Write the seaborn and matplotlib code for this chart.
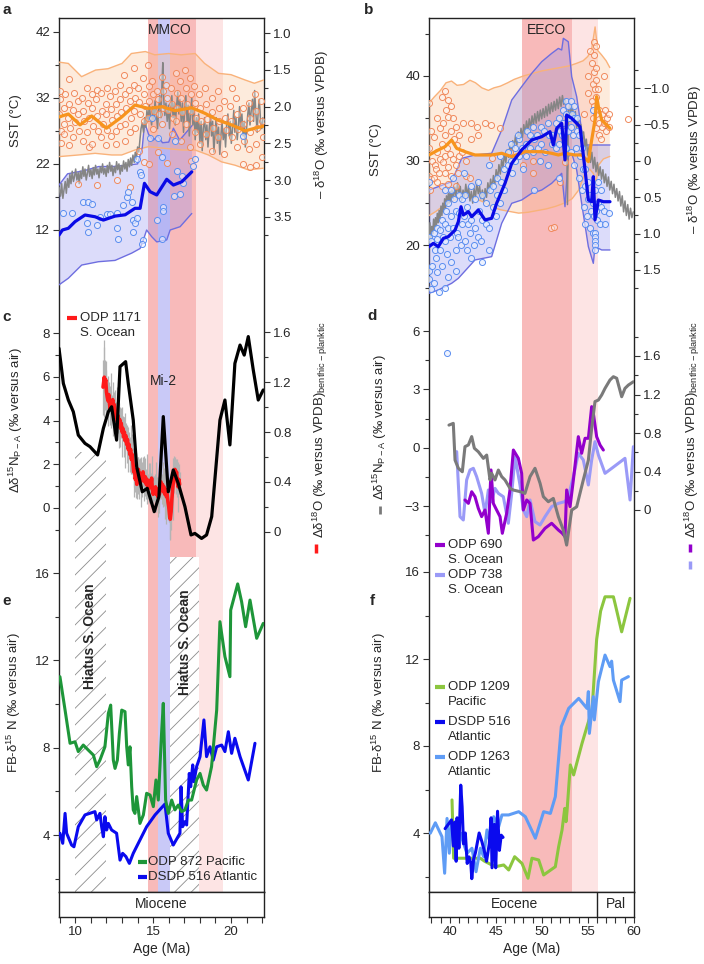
import numpy as np
import matplotlib
matplotlib.use("Agg")
import matplotlib.pyplot as plt
import seaborn as sns
from matplotlib.lines import Line2D

# ------------------------------------------------------------------ data
# Panel a (Miocene SST, left axis; delta18O right axis)
A_OR_MEAN = [(8.95,29.1),(9.55,29.55),(10.3,27.9),(11.05,29.25),(12.0,27.4),(12.98,29.1),(13.83,30.9),(14.69,30.4),(15.55,30.65),(16.4,30.05),(17.47,30.5),(18.33,29.65),(19.18,28.6),(20.04,27.9),(20.9,27.0),(21.54,27.4),(22.07,27.7)]
A_OR_UP = [(8.95,37.4),(9.55,37.2),(10.4,35.2),(11.3,36.2),(12.1,36.4),(13.0,37.2),(13.6,38.7),(14.5,39.0),(15.1,38.5),(16.0,38.7),(16.8,38.5),(17.7,38.7),(18.3,37.2),(19.2,35.7),(20.0,35.5),(20.9,34.7),(21.5,34.2),(22.1,34.7)]
A_OR_LO = [(8.95,23.1),(10.2,23.35),(11.27,23.6),(12.34,23.35),(12.98,23.35),(13.83,24.1),(14.69,24.6),(15.76,24.35),(16.84,24.1),(17.69,24.1),(18.55,23.35),(19.4,22.3),(20.26,21.8),(21.11,21.1),(22.1,21.35)]
A_BL_MEAN = [(8.95,11.24),(9.17,12.0),(9.55,12.26),(9.98,13.26),(10.62,14.27),(11.27,14.0),(11.8,13.5),(12.55,14.1),(13.2,14.3),(13.83,15.28),(14.16,15.28),(14.44,19.06),(14.8,17.8),(15.23,17.3),(15.87,19.67),(16.3,18.8),(16.84,19.3),(17.48,20.8)]
A_BL_UP = [(8.95,18.8),(9.5,20.5),(10.6,21.0),(11.5,21.6),(12.4,21.6),(13.3,21.8),(14.0,22.0),(14.3,24.5),(14.45,28.3),(14.7,26.5),(15.0,25.6),(15.3,26.2),(15.6,25.2),(16.0,25.3),(16.3,27.4),(16.7,25.6),(17.5,27.8)]
A_BL_LO = [(8.95,3.7),(9.55,4.7),(10.41,6.7),(11.48,7.2),(12.55,7.4),(13.62,8.5),(14.16,9.2),(14.37,10.5),(14.58,12.0),(14.9,11.0),(15.23,10.2),(15.87,10.5),(16.09,12.0),(16.73,12.5),(17.48,14.5)]
A_OR_PTS = [(8.98,29.5),(9.02,31.8),(9.05,27.0),(9.1,25.2),(9.0,33.0),(9.25,30.5),(9.3,28.0),(9.35,32.5),(9.28,26.5),(9.55,29.0),(9.6,31.0),(9.58,34.8),(9.65,27.5),(9.62,24.8),(9.85,30.2),(9.9,32.8),(9.95,28.3),(9.88,26.0),(10.15,31.5),(10.2,29.5),(10.25,27.0),(10.18,19.0),(10.45,32.0),(10.5,30.0),(10.55,28.5),(10.48,25.5),(10.75,33.5),(10.8,31.2),(10.85,29.0),(10.78,26.8),(10.9,24.5),(11.05,32.5),(11.1,30.5),(11.15,27.8),(11.08,25.0),(11.35,31.8),(11.4,29.2),(11.45,27.0),(11.38,33.2),(11.42,18.8),(11.65,32.8),(11.7,30.0),(11.75,28.0),(11.68,26.0),(11.95,31.0),(12.0,29.5),(12.05,27.2),(11.98,24.8),(12.02,33.5),(12.25,32.2),(12.3,30.3),(12.35,28.6),(12.28,26.2),(12.55,33.0),(12.6,31.0),(12.65,29.3),(12.58,27.0),(12.62,25.0),(12.7,19.5),(12.85,34.0),(12.9,31.8),(12.95,29.8),(12.88,27.8),(13.15,35.5),(13.2,32.5),(13.25,30.5),(13.18,28.0),(13.22,25.5),(13.45,33.2),(13.5,31.5),(13.55,29.0),(13.48,26.8),(13.52,18.5),(13.75,36.5),(13.8,34.0),(13.85,32.0),(13.78,30.0),(13.82,27.5),(14.05,33.5),(14.1,31.3),(14.15,29.5),(14.08,24.0),(14.35,35.0),(14.4,32.5),(14.45,30.8),(14.38,28.5),(14.42,22.3),(14.65,37.0),(14.7,33.8),(14.75,31.5),(14.68,29.0),(14.72,22.0),(14.95,34.5),(15.0,32.5),(15.05,30.0),(14.98,27.3),(15.25,33.0),(15.3,31.8),(15.35,29.5),(15.28,23.8),(15.55,35.2),(15.6,33.0),(15.65,30.5),(15.58,28.0),(15.85,34.0),(15.9,32.0),(15.95,30.2),(15.88,22.2),(16.15,33.5),(16.2,31.0),(16.25,29.0),(16.18,26.5),(16.45,35.8),(16.5,32.8),(16.55,30.5),(16.48,28.5),(16.75,34.5),(16.8,32.0),(16.85,29.8),(16.78,25.5),(17.05,36.2),(17.1,33.5),(17.15,31.0),(17.08,28.0),(17.35,35.0),(17.4,32.5),(17.45,30.0),(17.38,24.5),(17.42,22.5),(17.65,33.8),(17.7,31.2),(17.75,29.0),(17.68,26.8),(17.95,32.5),(18.0,30.5),(18.05,28.5),(17.98,25.0),(18.35,33.5),(18.4,31.0),(18.45,28.8),(18.38,26.5),(18.75,32.0),(18.8,29.8),(18.85,27.5),(18.78,24.0),(19.15,33.0),(19.2,30.5),(19.25,28.5),(19.18,26.0),(19.55,31.5),(19.6,29.0),(19.65,27.2),(19.58,23.5),(19.95,30.8),(20.0,28.5),(20.05,26.0),(20.08,33.5),(20.35,32.0),(20.4,29.5),(20.45,27.3),(20.38,24.5),(20.75,30.5),(20.8,28.0),(20.85,25.5),(20.78,22.0),(21.15,31.2),(21.2,29.0),(21.25,26.8),(21.18,24.2),(21.22,21.5),(21.55,32.5),(21.6,30.0),(21.65,27.5),(21.58,25.0),(21.62,21.8),(21.95,31.5),(22.0,28.5),(22.05,26.0),(21.98,23.0)]
A_BL_PTS = [(9.2,14.5),(9.76,14.5),(10.51,16.3),(10.83,16.2),(11.09,16.0),(10.73,13.1),(10.83,11.7),(11.37,12.8),(11.6,14.0),(12.01,14.4),(12.23,14.4),(12.65,14.5),(12.65,12.3),(12.76,10.6),(13.08,15.8),(13.3,17.0),(13.4,17.8),(13.62,16.3),(13.72,13.5),(13.83,13.1),(13.72,11.7),(13.94,13.8),(14.15,20.8),(14.22,20.3),(13.94,22.7),(14.37,10.5),(14.3,9.9),(14.9,28.9),(14.79,25.9),(15.33,25.9),(15.22,13.5),(15.54,23.1),(15.65,15.5),(15.65,14.8),(15.54,10.7),(16.4,25.4),(16.36,17.1),(16.72,17.4),(16.51,21.0),(16.87,20.1),(16.94,19.1),(17.68,22.8),(17.58,21.7),(20.79,26.2)]
A_GRAY = [(8.95,3.10),(9.05,3.22),(9.12,3.05),(9.2,3.25),(9.28,3.12),(9.35,3.02),(9.42,3.18),(9.5,2.98),(9.58,3.10),(9.65,2.92),(9.72,3.05),(9.8,2.88),(9.88,3.02),(9.95,2.95),(10.02,2.85),(10.1,3.0),(10.18,2.9),(10.25,3.05),(10.32,2.88),(10.4,2.98),(10.48,2.82),(10.55,2.95),(10.62,2.85),(10.7,3.0),(10.78,2.9),(10.85,2.8),(10.92,2.95),(11.0,2.86),(11.08,2.98),(11.15,2.83),(11.22,2.93),(11.3,2.8),(11.38,2.92),(11.45,2.85),(11.52,2.97),(11.6,2.82),(11.68,2.9),(11.75,2.78),(11.82,2.92),(11.9,2.84),(11.98,2.95),(12.05,2.8),(12.12,2.9),(12.2,2.76),(12.28,2.88),(12.35,2.8),(12.42,2.94),(12.5,2.82),(12.58,2.9),(12.65,2.75),(12.72,2.86),(12.8,2.78),(12.88,2.92),(12.95,2.8),(13.02,2.88),(13.1,2.74),(13.18,2.85),(13.25,2.76),(13.32,2.88),(13.4,2.72),(13.48,2.82),(13.55,2.7),(13.62,2.8),(13.7,2.66),(13.78,2.76),(13.85,2.62),(13.92,2.72),(14.0,2.55),(14.08,2.62),(14.15,2.45),(14.22,2.3),(14.3,2.22),(14.38,2.35),(14.45,2.15),(14.52,2.28),(14.6,2.05),(14.68,2.2),(14.75,1.98),(14.82,2.12),(14.9,2.25),(14.98,2.0),(15.05,2.18),(15.12,1.92),(15.2,2.1),(15.28,2.3),(15.35,2.05),(15.42,1.85),(15.5,2.15),(15.58,1.6),(15.62,1.4),(15.68,1.9),(15.75,2.12),(15.82,1.95),(15.9,2.2),(15.98,1.98),(16.05,2.3),(16.12,2.05),(16.2,1.85),(16.28,2.15),(16.35,1.95),(16.42,2.25),(16.5,2.0),(16.58,1.8),(16.65,2.1),(16.72,1.9),(16.8,2.2),(16.88,1.95),(16.95,2.35),(17.02,2.05),(17.1,1.85),(17.18,2.2),(17.25,1.98),(17.32,2.4),(17.4,2.1),(17.48,1.88),(17.55,2.25),(17.62,2.05),(17.7,2.45),(17.78,2.15),(17.85,2.35),(17.92,2.1),(18.0,2.5),(18.08,2.2),(18.15,2.6),(18.22,2.3),(18.3,2.15),(18.38,2.45),(18.45,2.25),(18.52,2.55),(18.6,2.3),(18.68,2.1),(18.75,2.4),(18.82,2.2),(18.9,2.62),(18.98,2.35),(19.05,2.15),(19.12,2.5),(19.2,2.28),(19.28,2.65),(19.35,2.4),(19.42,2.2),(19.5,2.45),(19.58,2.3),(19.65,2.55),(19.72,2.25),(19.8,2.1),(19.88,2.4),(19.95,2.2),(20.02,2.5),(20.1,2.3),(20.18,2.05),(20.25,2.35),(20.32,2.15),(20.4,2.45),(20.48,2.25),(20.55,2.0),(20.62,2.3),(20.7,2.1),(20.78,2.4),(20.85,2.2),(20.92,2.55),(21.0,2.3),(21.08,2.1),(21.15,1.95),(21.22,2.25),(21.3,2.05),(21.38,1.9),(21.45,2.2),(21.52,1.78),(21.6,2.1),(21.68,2.35),(21.75,2.05),(21.82,1.9),(21.9,2.2),(21.98,2.3),(22.05,2.15)]

# Panel b (Eocene SST)
B_BL_MEAN = [(37.75,19.84),(38.22,20.23),(38.76,19.84),(39.31,20.82),(39.85,21.02),(40.58,21.8),(40.94,22.79),(41.23,24.56),(41.48,23.58),(42.03,23.97),(42.39,23.38),(43.11,24.17),(43.84,23.0),(44.56,23.19),(45.1,24.96),(46.01,27.32),(46.74,29.68),(47.82,31.26),(48.91,32.44),(50.0,32.83),(50.9,33.42),(51.26,31.85),(51.63,33.82),(52.17,34.41),(52.53,30.08),(52.71,35.39),(53.26,35.0),(53.8,34.41),(54.16,34.0),(54.71,28.9),(55.07,25.35),(55.43,25.15),(55.61,28.11),(55.79,23.0),(56.16,25.35),(56.7,25.15),(57.42,25.15)]
B_BL_UP = [(37.75,26.53),(38.76,26.93),(40.21,27.52),(41.3,30.27),(42.75,30.67),(44.56,30.87),(45.65,33.62),(46.74,37.16),(47.82,38.74),(48.91,40.31),(50.0,41.69),(51.08,42.67),(51.81,43.26),(52.17,43.07),(52.35,44.45),(52.89,44.05),(53.26,39.92),(53.8,37.56),(54.34,33.62),(54.89,31.85),(56.16,31.85),(57.42,31.85)]
B_BL_LO = [(37.75,14.33),(38.76,14.72),(40.21,15.51),(40.94,16.1),(42.75,18.27),(44.56,18.66),(45.65,22.6),(46.74,24.96),(47.82,25.35),(48.91,26.14),(50.0,26.53),(51.08,27.32),(51.81,28.11),(52.17,28.5),(52.53,24.56),(52.89,30.47),(53.26,30.87),(53.8,28.9),(54.34,24.96),(55.07,19.84),(55.61,17.87),(55.79,19.84),(56.52,19.45),(57.42,19.45)]
B_OR_MEAN = [(37.75,30.67),(38.76,31.26),(39.49,31.65),(40.21,32.44),(40.76,31.45),(41.66,31.06),(42.75,30.67),(44.56,30.67),(45.65,30.87),(46.74,30.47),(48.18,31.06),(50.0,31.06),(51.08,30.87),(51.81,30.67),(52.53,30.87),(53.62,30.67),(54.34,30.67),(55.07,29.88),(55.43,32.44),(55.79,34.8),(55.97,37.56),(56.16,36.38),(56.52,34.8),(56.88,34.41),(57.42,33.82)]
B_OR_UP = [(37.75,36.8),(38.3,37.5),(39.0,38.3),(39.6,39.2),(40.2,39.4),(40.8,38.9),(41.5,39.0),(42.2,39.5),(42.8,39.2),(43.5,38.6),(44.2,38.3),(44.8,38.6),(45.5,38.8),(46.3,39.2),(47.0,39.6),(48.0,40.0),(49.0,40.3),(50.0,40.6),(51.0,40.8),(52.0,41.0),(53.0,41.2),(53.8,41.5),(54.5,41.8),(55.0,42.3),(55.4,43.0),(55.8,45.8),(56.1,43.0),(56.5,42.5),(57.0,41.8),(57.4,41.0)]
B_OR_LO = [(37.75,23.5),(38.5,24.0),(39.5,24.8),(40.5,25.3),(41.5,25.8),(42.5,25.6),(43.5,25.2),(44.5,24.6),(45.5,24.2),(46.5,24.0),(47.5,23.8),(48.5,23.9),(49.5,24.1),(50.5,24.3),(51.5,24.6),(52.5,25.0),(53.3,25.5),(54.0,26.5),(54.6,28.2),(55.2,29.0),(55.6,28.5),(55.9,27.5),(56.2,29.5),(56.7,30.2),(57.4,30.5)]
B_OR_PTS = [(37.78,36.8),(37.8,31.5),(37.75,28.2),(37.82,26.5),(38.0,33.5),(38.05,30.0),(37.98,27.8),(38.3,32.8),(38.35,29.5),(38.28,28.0),(38.6,35.0),(38.65,31.0),(38.55,29.0),(38.62,27.5),(38.9,33.8),(38.95,30.2),(38.85,28.5),(39.2,37.5),(39.25,34.5),(39.15,32.0),(39.22,29.8),(39.18,27.0),(39.5,38.2),(39.55,36.0),(39.45,33.0),(39.52,30.5),(39.48,28.5),(39.8,37.2),(39.85,35.2),(39.75,31.5),(39.82,29.2),(39.78,27.2),(40.1,36.5),(40.15,33.5),(40.05,30.8),(40.12,28.2),(40.4,35.0),(40.45,32.5),(40.35,30.2),(40.7,34.0),(40.75,31.8),(40.65,29.5),(40.72,27.0),(41.0,33.0),(41.05,30.5),(40.95,28.5),(41.4,34.5),(41.35,31.0),(41.8,30.0),(41.75,28.2),(42.3,34.5),(42.35,32.5),(42.25,28.0),(43.0,34.0),(43.1,33.0),(43.8,34.5),(44.5,34.2),(44.55,30.3),(45.5,33.8),(46.5,31.0),(48.0,29.5),(49.0,28.5),(49.1,30.0),(51.0,22.0),(51.3,22.2),(52.0,27.5),(52.5,29.8),(54.6,35.5),(55.0,38.0),(55.05,40.0),(55.3,43.0),(55.5,41.5),(55.52,39.0),(55.48,37.0),(55.55,35.0),(55.7,44.0),(55.72,42.5),(55.68,40.5),(55.75,38.5),(55.7,36.5),(55.9,43.5),(55.92,41.0),(55.88,39.5),(55.95,37.5),(55.9,35.5),(55.85,33.8),(56.2,34.5),(56.25,36.0),(56.15,38.5),(56.22,33.0),(56.5,35.5),(56.55,34.0),(56.45,32.5),(56.8,40.0),(56.85,36.0),(56.75,34.5),(57.0,33.5),(57.05,35.0),(57.3,35.5),(57.35,34.0),(59.34,34.9)]
B_BL_PTS = [(37.72,27.5),(37.78,17.0),(37.8,16.0),(37.75,21.0),(38.0,20.5),(38.05,17.5),(37.98,14.8),(38.3,21.5),(38.35,19.5),(38.28,15.5),(38.6,22.0),(38.65,20.8),(38.55,18.5),(38.62,16.8),(38.9,21.8),(38.95,19.5),(38.85,14.5),(39.2,23.0),(39.25,21.0),(39.15,17.5),(39.5,26.5),(39.55,24.0),(39.45,22.5),(39.52,20.5),(39.48,15.0),(39.8,25.0),(39.85,22.0),(39.75,19.0),(39.82,16.2),(40.1,26.5),(40.15,23.5),(40.05,21.0),(40.12,18.0),(40.4,28.0),(40.45,25.5),(40.35,22.0),(40.7,24.0),(40.75,21.5),(40.65,19.5),(40.72,17.0),(41.0,26.0),(41.05,23.8),(40.95,21.0),(41.3,25.5),(41.35,22.5),(41.25,20.0),(41.6,28.5),(41.65,26.0),(41.55,23.5),(41.62,20.5),(41.9,24.5),(41.95,22.5),(41.85,19.5),(42.3,27.0),(42.35,23.0),(42.25,21.5),(42.32,18.5),(42.7,25.5),(42.75,22.0),(42.65,20.0),(43.1,27.5),(43.15,24.0),(43.05,21.0),(43.5,26.0),(43.55,23.0),(43.45,20.5),(43.52,18.0),(43.9,25.0),(43.95,22.5),(44.3,29.5),(44.35,26.5),(44.25,22.0),(44.32,19.5),(44.7,27.0),(44.75,24.5),(45.1,28.0),(45.15,26.0),(45.05,23.5),(45.5,30.5),(45.55,27.5),(45.45,25.0),(45.9,29.0),(45.95,26.5),(46.3,31.0),(46.35,29.5),(46.7,30.0),(46.75,28.5),(46.65,32.0),(47.1,31.5),(47.15,30.0),(47.5,32.5),(47.55,30.5),(47.45,33.0),(47.9,31.5),(47.95,29.0),(48.3,32.0),(48.35,33.5),(48.25,30.5),(48.7,33.0),(48.75,31.5),(49.1,31.0),(49.15,32.5),(49.05,34.0),(49.12,26.5),(49.5,33.0),(49.55,31.5),(49.9,34.0),(49.95,32.0),(49.85,30.0),(50.3,33.5),(50.35,31.0),(50.7,34.5),(50.75,33.0),(50.65,29.5),(51.1,33.0),(51.15,32.0),(51.5,34.5),(51.55,31.5),(51.9,35.0),(51.95,33.5),(51.85,32.0),(51.92,28.0),(52.3,36.0),(52.35,34.5),(52.25,33.0),(52.6,37.0),(52.65,35.5),(52.55,33.5),(52.62,31.5),(52.9,36.5),(52.95,35.0),(52.85,33.5),(53.2,37.0),(53.25,35.5),(53.15,34.0),(53.22,31.0),(53.5,36.5),(53.55,35.0),(53.45,33.0),(53.52,29.5),(53.8,35.0),(53.85,33.5),(53.75,31.5),(54.1,33.0),(54.15,30.5),(54.05,28.0),(54.4,31.5),(54.45,29.0),(54.35,26.5),(54.7,29.0),(54.75,27.0),(54.65,24.5),(54.72,22.5),(55.0,27.5),(55.05,25.5),(54.95,23.5),(55.3,26.0),(55.35,24.0),(55.25,22.0),(55.6,25.0),(55.65,23.5),(55.55,21.5),(55.62,36.0),(55.8,21.5),(55.82,21.0),(55.78,20.5),(55.8,20.0),(55.83,19.5),(55.77,26.5),(55.85,24.0),(56.1,27.5),(56.15,25.0),(56.05,23.0),(56.4,26.5),(56.45,24.5),(56.35,22.5),(56.8,24.0),(56.85,22.5),(57.3,23.8),(39.7,7.3)]
B_GRAY = [(37.75,1.05),(37.85,0.85),(37.95,1.1),(38.05,0.9),(38.15,1.0),(38.25,0.8),(38.35,0.95),(38.45,0.78),(38.55,0.9),(38.65,0.72),(38.75,0.85),(38.85,0.68),(38.95,0.8),(39.05,0.62),(39.15,0.75),(39.25,0.58),(39.35,0.7),(39.45,0.52),(39.55,0.65),(39.65,0.48),(39.75,0.6),(39.85,0.45),(39.95,0.58),(40.05,0.42),(40.15,0.55),(40.25,0.4),(40.4,0.52),(40.55,0.36),(40.7,0.5),(40.85,0.3),(41.0,0.45),(41.15,0.35),(41.3,0.55),(41.45,0.4),(41.6,0.5),(41.75,0.32),(41.9,0.48),(42.05,0.35),(42.2,0.55),(42.35,0.42),(42.5,0.58),(42.65,0.38),(42.8,0.5),(42.95,0.3),(43.1,0.45),(43.25,0.35),(43.4,0.52),(43.55,0.4),(43.7,0.55),(43.85,0.38),(44.0,0.5),(44.15,0.3),(44.3,0.42),(44.45,0.25),(44.6,0.38),(44.75,0.2),(44.9,0.32),(45.05,0.12),(45.2,0.25),(45.35,0.05),(45.5,0.18),(45.65,-0.02),(45.8,0.1),(45.95,-0.1),(46.1,0.02),(46.25,-0.15),(46.4,-0.05),(46.55,-0.22),(46.7,-0.1),(46.85,-0.28),(47.0,-0.18),(47.15,-0.35),(47.3,-0.22),(47.45,-0.4),(47.6,-0.28),(47.75,-0.45),(47.9,-0.32),(48.05,-0.5),(48.2,-0.38),(48.35,-0.55),(48.5,-0.42),(48.65,-0.58),(48.8,-0.45),(48.95,-0.62),(49.1,-0.5),(49.25,-0.65),(49.4,-0.52),(49.55,-0.68),(49.7,-0.55),(49.85,-0.7),(50.0,-0.58),(50.15,-0.72),(50.3,-0.6),(50.45,-0.75),(50.6,-0.62),(50.75,-0.78),(50.9,-0.65),(51.05,-0.8),(51.2,-0.68),(51.35,-0.82),(51.5,-0.7),(51.65,-0.85),(51.8,-0.72),(51.95,-0.88),(52.1,-0.75),(52.25,-0.9),(52.4,-0.78),(52.55,-0.85),(52.7,-0.7),(52.8,0.6),(52.9,-0.65),(53.05,-0.8),(53.2,-0.62),(53.35,-0.75),(53.5,-0.55),(53.65,-0.68),(53.8,-0.45),(53.95,-0.6),(54.1,-0.38),(54.25,-0.5),(54.4,-0.28),(54.55,-0.4),(54.7,-0.18),(54.85,-0.3),(55.0,-0.08),(55.15,-0.2),(55.3,0.02),(55.45,-0.12),(55.6,0.1),(55.75,-0.05),(55.9,0.15),(56.05,0.02),(56.2,0.2),(56.35,0.08),(56.5,0.25),(56.65,0.12),(56.8,0.3),(56.95,0.18),(57.1,0.35),(57.25,0.22),(57.4,0.4),(57.55,0.28),(57.7,0.45),(57.85,0.32),(58.0,0.5),(58.15,0.38),(58.3,0.55),(58.45,0.42),(58.6,0.62),(58.75,0.48),(58.9,0.7),(59.05,0.55),(59.2,0.75),(59.35,0.6),(59.5,0.8),(59.65,0.65),(59.8,0.78),(59.95,0.7)]

# Panel c
C_BLACK = [(8.95,7.31),(9.23,5.7),(9.55,4.94),(9.87,4.4),(10.19,3.33),(10.62,2.95),(10.94,2.8),(11.43,2.42),(11.8,3.64),(12.12,4.4),(12.33,4.63),(12.65,3.1),(12.87,6.47),(13.23,6.7),(13.4,5.7),(13.72,4.02),(13.94,1.88),(14.3,0.73),(14.62,0.89),(15.07,-0.18),(15.37,0.51),(15.65,4.18),(15.97,0.73),(16.29,1.73),(16.61,1.12),(17.04,0.05),(17.43,-1.25),(17.68,-1.18),(18.11,-1.41),(18.43,-1.25),(18.76,-0.41),(19.29,4.02),(19.61,4.94),(19.93,2.88),(20.25,6.62),(20.58,7.46),(20.85,7.0),(21.11,7.85),(21.43,6.32),(21.75,4.94),(22.07,5.4)]
C_RED = [(11.78,1.16,0.22),(11.82,1.20,0.28),(11.86,1.24,0.3),(11.9,1.18,0.2),(11.95,1.22,0.15),(12.0,1.12,0.18),(12.05,1.08,0.12),(12.1,1.05,0.2),(12.15,1.10,0.1),(12.2,1.02,0.15),(12.25,0.98,0.12),(12.3,1.05,0.22),(12.35,1.0,0.1),(12.4,1.06,0.14),(12.45,0.95,0.18),(12.5,1.02,0.1),(12.55,0.98,0.16),(12.6,0.92,0.12),(12.65,0.96,0.2),(12.7,0.88,0.1),(12.75,0.93,0.14),(12.8,0.85,0.18),(12.85,0.9,0.1),(12.9,0.83,0.15),(12.95,0.87,0.12),(13.0,0.8,0.2),(13.05,0.83,0.1),(13.1,0.76,0.16),(13.15,0.8,0.12),(13.2,0.73,0.22),(13.25,0.77,0.1),(13.3,0.7,0.15),(13.35,0.74,0.12),(13.4,0.66,0.18),(13.45,0.7,0.1),(13.5,0.62,0.14),(13.55,0.66,0.2),(13.6,0.58,0.1),(13.65,0.62,0.16),(13.7,0.55,0.12),(13.75,0.48,0.2),(13.8,0.5,0.14),(13.85,0.42,0.1),(13.9,0.45,0.18),(13.95,0.38,0.12),(14.0,0.45,0.15),(14.05,0.5,0.1),(14.1,0.42,0.16),(14.15,0.47,0.12),(14.2,0.4,0.2),(14.25,0.46,0.1),(14.3,0.42,0.14),(14.35,0.48,0.12),(14.4,0.43,0.18),(14.45,0.4,0.1),(14.5,0.44,0.15),(14.55,0.38,0.12),(14.6,0.42,0.2),(14.65,0.36,0.1),(14.7,0.41,0.14),(14.75,0.35,0.12),(14.8,0.39,0.16),(14.85,0.37,0.1),(14.9,0.43,0.18),(14.95,0.34,0.12),(15.0,0.3,0.15),(15.05,0.35,0.1),(15.1,0.32,0.14),(15.15,0.36,0.2),(15.2,0.3,0.12),(15.25,0.34,0.1),(15.3,0.28,0.16),(15.35,0.33,0.12),(15.4,0.3,0.15),(15.45,0.36,0.1),(15.5,0.4,0.14),(15.55,0.34,0.12),(15.6,0.38,0.18),(15.65,0.32,0.1),(15.7,0.36,0.15),(15.75,0.3,0.2),(15.8,0.34,0.12),(15.85,0.28,0.22),(15.9,0.3,0.18),(15.95,0.24,0.15),(16.0,0.2,0.12),(16.05,0.14,0.2),(16.1,0.1,0.17),(16.15,0.16,0.15),(16.2,0.26,0.1),(16.25,0.34,0.25),(16.3,0.4,0.12),(16.35,0.46,0.15),(16.4,0.5,0.1),(16.45,0.44,0.14),(16.5,0.48,0.1),(16.55,0.4,0.12),(16.6,0.36,0.2),(16.65,0.42,0.12),(16.7,0.38,0.1)]

# Panel d
D_GRAY = [(39.92,1.16),(40.39,1.25),(40.58,-0.64),(40.94,-1.06),(41.37,-1.24),(41.66,0.05),(42.03,0.14),(42.39,0.57),(42.68,-0.03),(43.11,-0.21),(43.66,-0.55),(44.02,-0.38),(44.38,-1.66),(44.56,-1.32),(44.92,-1.66),(45.29,-1.15),(45.65,-1.49),(46.01,-1.66),(46.55,-2.09),(46.92,-2.18),(47.64,-2.26),(48.18,-2.35),(48.73,-1.49),(49.27,-1.06),(49.82,-1.83),(50.18,-2.52),(50.72,-2.78),(51.26,-2.61),(51.81,-3.55),(52.35,-4.24),(52.71,-5.01),(53.26,-3.21),(53.8,-3.04),(54.52,-1.66),(55.07,-0.64),(55.43,0.99),(55.79,2.37),(56.16,2.45),(56.52,2.71),(56.88,3.05),(57.42,3.48),(57.79,3.65),(58.15,3.57),(58.69,2.62),(59.05,3.05),(59.42,3.22),(59.96,3.39)]
D_PURPLE = [(41.66,0.104),(42.03,0.069),(42.39,0.19),(42.75,0.138),(43.11,0.017),(43.47,-0.069),(43.84,0.0),(44.2,-0.242),(44.49,0.416),(44.74,0.069),(45.1,0.0),(45.47,-0.069),(45.72,-0.242),(46.19,-0.035),(46.55,0.208),(46.92,0.623),(47.46,0.537),(47.82,0.381),(48.0,0.0),(48.37,0.104),(48.73,0.069),(49.09,-0.312),(49.63,-0.277),(50.36,-0.19),(51.08,-0.138),(51.81,-0.208),(52.24,-0.242),(52.53,-0.277),(52.71,0.208),(53.08,0.035),(53.44,0.312),(53.98,0.762),(54.34,0.589),(54.71,0.745),(55.07,0.745),(55.43,1.074),(55.61,1.004),(55.97,0.762),(56.34,0.675),(56.7,0.623)]
D_LBLUE = [(40.76,0.606),(41.12,-0.069),(41.48,-0.104),(41.84,0.312),(42.21,0.416),(42.57,0.433),(42.93,0.346),(43.47,0.173),(43.84,-0.035),(44.2,0.208),(44.56,0.087),(44.92,0.225),(45.29,0.173),(45.83,0.138),(46.37,-0.138),(46.74,0.173),(47.1,0.554),(47.64,0.26),(48.0,0.0),(48.37,-0.069),(48.73,0.104),(49.27,-0.121),(49.82,-0.156),(50.36,-0.069),(51.08,0.035),(51.81,0.069),(52.53,0.087),(52.89,0.138),(53.44,0.346),(53.98,0.589),(54.52,0.52),(55.07,0.26),(55.43,0.52),(55.79,0.71),(56.16,0.571),(56.88,0.381),(57.61,0.433),(58.33,0.485),(59.05,0.537),(59.6,0.104),(59.96,0.658)]

# Panel e
E_GREEN = [(9.01,11.25),(9.34,9.72),(9.66,8.2),(9.98,8.27),(10.19,7.82),(10.51,8.12),(10.83,7.89),(11.16,7.66),(11.37,7.13),(11.58,7.43),(11.9,8.04),(12.12,9.57),(12.27,9.95),(12.44,7.43),(12.55,7.05),(12.7,7.43),(12.83,8.66),(12.98,9.72),(13.19,9.65),(13.3,8.04),(13.4,7.21),(13.51,8.04),(13.62,6.21),(13.72,5.15),(13.83,4.99),(13.94,5.76),(14.05,5.15),(14.15,4.53),(14.37,4.92),(14.58,5.91),(14.8,5.83),(15.01,5.3),(15.18,6.52),(15.33,5.6),(15.54,8.66),(15.65,10.03),(15.8,5.6),(15.97,4.99),(16.19,5.6),(16.4,5.15),(16.61,5.37),(16.83,5.07),(17.04,5.15),(17.26,5.6),(17.47,5.6),(17.79,6.52),(18.01,6.82),(18.22,6.29),(18.43,6.06),(18.75,7.13),(19.08,9.72),(19.29,13.77),(19.61,12.17),(19.93,11.25),(19.98,14.3),(20.43,15.5),(20.68,14.69),(20.94,13.54),(21.22,14.76),(21.65,13.01),(22.07,13.69)]
E_BLUE = [(9.01,4.08),(9.19,3.62),(9.34,4.99),(9.44,4.08),(9.76,3.54),(9.91,3.46),(10.19,4.38),(10.62,4.92),(11.26,5.07),(11.37,4.69),(11.58,4.99),(11.69,4.38),(11.8,3.92),(11.9,4.84),(12.01,4.23),(12.12,4.53),(12.33,4.23),(12.65,4.08),(12.87,2.85),(13.04,3.16),(13.25,3.01),(13.47,2.7),(13.72,3.16),(14.58,4.38),(15.12,4.92),(15.76,5.42),(15.97,4.08),(16.29,3.54),(16.72,4.08),(16.79,6.21),(16.89,4.38),(17.04,4.61),(17.15,4.46),(17.32,6.82),(17.41,6.21),(17.54,7.21),(17.62,6.44),(17.79,7.13),(18.01,7.59),(18.26,9.27),(18.43,7.59),(18.65,8.04),(18.86,7.43),(19.08,8.04),(19.4,8.12),(19.61,7.82),(19.83,8.73),(20.04,7.74),(20.25,8.43),(20.58,7.59),(21.11,6.52),(21.54,8.2)]

# Panel f
F_GREEN = [(40.25,5.52),(40.43,2.84),(41.34,2.84),(43.33,2.84),(43.8,2.7),(44.96,2.45),(45.87,2.53),(46.41,2.3),(47.06,2.91),(47.86,2.6),(48.51,1.92),(48.94,2.84),(49.67,2.76),(50.21,2.07),(51.48,2.45),(51.84,3.37),(52.21,4.14),(52.5,5.13),(52.64,4.52),(52.75,5.0),(53.11,7.13),(53.47,6.67),(54.38,8.12),(54.92,8.89),(55.47,9.66),(55.97,12.9),(56.4,14.2),(56.88,14.86),(57.79,14.86),(57.97,14.55),(58.69,13.25),(59.6,14.79)]
F_BLUE = [(39.5,4.2),(40.2,4.6),(40.4,3.4),(40.55,4.5),(40.7,2.7),(40.8,4.7),(41.0,3.3),(41.2,6.2),(41.35,5.2),(41.5,3.5),(41.7,4.0),(41.9,2.6),(42.1,2.9),(42.3,2.6),(42.4,1.9),(42.6,2.8),(42.8,3.1),(43.2,4.0),(43.5,3.6),(43.8,3.1),(44.0,2.7),(44.3,3.5),(44.5,4.7),(44.6,2.4),(44.85,4.4),(45.0,2.4),(45.2,5.0),(45.4,3.2),(45.6,3.9),(45.8,3.8)]
F_LBLUE = [(37.89,3.99),(38.44,4.47),(39.16,3.83),(39.45,2.15),(39.71,4.67),(39.96,3.07),(40.18,4.6),(40.5,3.5),(40.8,4.2),(41.0,3.4),(41.34,3.99),(41.6,3.4),(41.88,3.07),(42.42,3.3),(42.86,2.22),(43.33,3.3),(43.69,2.91),(44.05,4.14),(44.42,3.52),(44.78,4.75),(45.32,4.29),(45.68,4.83),(46.41,4.83),(47.5,4.98),(48.22,4.75),(49.31,3.76),(50.21,4.98),(50.94,4.9),(51.48,5.67),(52.13,8.89),(52.93,9.73),(54.02,10.19),(54.92,9.73),(55.07,10.5),(55.18,8.58),(55.61,10.27),(55.72,9.2),(56.16,10.96),(56.88,12.18),(57.42,11.65),(57.6,11.9),(57.79,11.03),(58.51,10.04),(58.69,11.03),(59.42,11.19)]

# ------------------------------------------------------------------ style
sns.set_style("ticks")
plt.rcParams['font.family'] = ['Liberation Sans', 'DejaVu Sans']
plt.rcParams['mathtext.fontset'] = 'custom'
plt.rcParams['mathtext.rm'] = 'Liberation Sans'
plt.rcParams['mathtext.it'] = 'Liberation Sans:italic'
plt.rcParams['mathtext.bf'] = 'Liberation Sans:bold'
plt.rcParams['hatch.linewidth'] = 0.6
plt.rcParams['hatch.color'] = '#8c8c8c'
plt.rcParams['xtick.direction'] = 'out'
plt.rcParams['ytick.direction'] = 'out'
FS = 9.5
TICKC = '#333333'

W, H = 704, 964
fig = plt.figure(figsize=(W/100, H/100), dpi=100)

COLS = {'L': (59, 264, (8.95, 22.12)), 'R': (429, 634, (37.75, 60.03))}

PINK = '#f8baba'
LPINK = '#fde4e4'
MBLUE = '#c9c9f7'
OR_LINE = '#f7941d'
OR_BAND = '#fbc08e'
OR_EDGE = '#f9b27a'
OR_PT = '#f08a5d'
BL_LINE = '#0a0ae6'
BL_BAND = '#8c8cf0'
BL_EDGE = '#6e6ee0'
BL_PT = '#5b8ef0'
GRAY = '#858585'


def unz(pts):
    a = np.array(pts, dtype=float)
    return [a[:, i] for i in range(a.shape[1])]


def add_ax(x0, x1, top, bot):
    return fig.add_axes([x0 / W, 1 - bot / H, (x1 - x0) / W, (bot - top) / H])


def ylim_from(top, bot, ref):
    y1, v1, y2, v2 = ref
    k = (v2 - v1) / (y2 - y1)
    return v1 + (bot - y1) * k, v1 + (top - y1) * k


def style_panel(ax):
    ax.patch.set_visible(False)
    for s in ax.spines.values():
        s.set_visible(False)
    ax.tick_params(axis='x', which='both', bottom=False, top=False, labelbottom=False)
    ax.tick_params(axis='y', which='major', length=4.5, width=0.8, color=TICKC, labelsize=FS, pad=2)
    ax.tick_params(axis='y', which='minor', length=3, width=0.8, color=TICKC)


def make_panel(col, top, bot, lref, rref=None):
    x0, x1, xl = COLS[col]
    axL = add_ax(x0, x1, top, bot)
    style_panel(axL)
    axL.set_xlim(xl)
    axL.set_ylim(*ylim_from(top, bot, lref))
    axR = None
    if rref is not None:
        axR = axL.twinx()
        style_panel(axR)
        axR.set_ylim(*ylim_from(top, bot, rref))
    axT = axL.twinx()
    style_panel(axT)
    axT.set_ylim(axL.get_ylim())
    axT.set_yticks([])
    axT.tick_params(axis='y', which='both', right=False, labelright=False)
    return axL, axR, axT


def ticks(ax, major, minor, labels=None):
    ax.set_yticks(major)
    if labels is not None:
        ax.set_yticklabels(labels)
    ax.set_yticks(minor, minor=True)
    ax.set_ylabel('')
    ax.set_xlabel('')


def line(ax, pts, color, lw):
    x, y = unz(pts)[:2]
    sns.lineplot(x=x, y=y, ax=ax, color=color, lw=lw, estimator=None, sort=False, legend=False)
    ax.set_xlabel(''); ax.set_ylabel('')


def band(ax, up, lo, fill, edge, alpha):
    ux, uy = unz(up)
    lx, ly = unz(lo)
    ax.fill(np.r_[ux, lx[::-1]], np.r_[uy, ly[::-1]], color=fill, alpha=alpha, lw=0)
    line(ax, up, edge, 1.0)
    line(ax, lo, edge, 1.0)


def points(ax, pts, edge, face):
    x, y = unz(pts)
    sns.scatterplot(x=x, y=y, ax=ax, s=19, facecolor=face, edgecolor=edge, linewidth=0.7, legend=False)
    ax.set_xlabel(''); ax.set_ylabel('')


def ftext(px, py, s, **kw):
    kw.setdefault('fontsize', FS)
    return fig.text(px / W, 1 - py / H, s, **kw)


def dash(px0, px1, py, color, lw=3):
    fig.add_artist(Line2D([px0 / W, px1 / W], [1 - py / H] * 2, color=color, lw=lw,
                          transform=fig.transFigure, solid_capstyle='butt'))


def vdash(px, py0, py1, color, lw=2):
    fig.add_artist(Line2D([px / W] * 2, [1 - py0 / H, 1 - py1 / H], color=color, lw=lw,
                          transform=fig.transFigure, solid_capstyle='butt'))


# ------------------------------------------------------------------ backgrounds
def background(col, spans):
    x0, x1, xl = COLS[col]
    bg = add_ax(x0, x1, 18, 892)
    bg.set_xlim(xl)
    bg.set_ylim(0, 1)
    bg.set_xticks([]); bg.set_yticks([])
    bg.set_facecolor('white')
    for s in bg.spines.values():
        s.set_visible(True); s.set_color('#222222'); s.set_linewidth(1.0)
    for a, b, c, y0, y1, h in spans:
        if h:
            bg.axvspan(a, b, ymin=y0, ymax=y1, facecolor='white', edgecolor='#8c8c8c',
                       hatch='//', lw=0, zorder=2)
        else:
            bg.axvspan(a, b, ymin=y0, ymax=y1, color=c, lw=0, zorder=1)
    return bg


background('L', [(14.64, 15.33, PINK, 0, 1, False), (15.33, 16.07, MBLUE, 0, 1, False),
                 (16.07, 17.72, PINK, 0.383, 1, False), (17.72, 19.49, LPINK, 0, 1, False),
                 (9.96, 11.99, None, 0, 0.503, True), (16.07, 17.93, None, 0, 0.383, True)])
background('R', [(47.86, 53.33, PINK, 0, 1, False), (53.33, 56.1, LPINK, 0, 1, False)])


def epoch(col, majors, minors, names):
    x0, x1, xl = COLS[col]
    ep = add_ax(x0, x1, 892, 917)
    ep.set_xlim(xl); ep.set_ylim(0, 1)
    ep.set_yticks([])
    ep.set_xticks(majors)
    ep.set_xticks(minors, minor=True)
    ep.tick_params(axis='x', which='major', length=4.5, width=0.8, color=TICKC, labelsize=FS, pad=2)
    ep.tick_params(axis='x', which='minor', length=4.5, width=0.8, color=TICKC)
    for s in ep.spines.values():
        s.set_visible(True); s.set_color('#222222'); s.set_linewidth(1.0)
    for xpos, name in names:
        ep.text(xpos, 0.5, name, ha='center', va='center', fontsize=FS + 0.5)
    ep.set_xlabel('Age (Ma)', fontsize=FS + 0.5, labelpad=3)
    return ep


epoch('L', [10, 15, 20], list(range(9, 23)), [(15.5, 'Miocene')])
epR = epoch('R', [40, 45, 50, 55, 60], list(range(38, 61)), [(47.0, 'Eocene'), (58.1, 'Pal')])
epR.axvline(56, color='#222222', lw=1.0)

# ------------------------------------------------------------------ panel a
aL, aR, aT = make_panel('L', 18, 300, (31.7, 42, 230, 12), (33.3, 1.0, 216.7, 3.5))
ticks(aL, [12, 22, 32, 42], [17, 27, 37])
ticks(aR, [1.0, 1.5, 2.0, 2.5, 3.0, 3.5], [1.25, 1.75, 2.25, 2.75, 3.25, 3.75],
      ['1.0', '1.5', '2.0', '2.5', '3.0', '3.5'])
band(aL, A_OR_UP, A_OR_LO, OR_BAND, OR_EDGE, 0.3)
band(aL, A_BL_UP, A_BL_LO, BL_BAND, BL_EDGE, 0.3)
line(aR, A_GRAY, GRAY, 1.1)
points(aT, A_OR_PTS, OR_PT, (1, 1, 1, 0.35))
points(aT, A_BL_PTS, BL_PT, (0.92, 0.94, 1, 0.6))
line(aT, A_OR_MEAN, OR_LINE, 2.3)
line(aT, A_BL_MEAN, BL_LINE, 2.3)

# ------------------------------------------------------------------ panel b
bL, bR, bT = make_panel('R', 18, 360, (76, 40, 245.3, 20), (88.3, -1.0, 270, 1.5))
ticks(bL, [20, 30, 40], [15, 25, 35, 45])
ticks(bR, [-1.0, -0.5, 0, 0.5, 1.0, 1.5], [-1.25, -0.75, -0.25, 0.25, 0.75, 1.25, 1.75],
      ['\u22121.0', '\u22120.5', '0', '0.5', '1.0', '1.5'])
band(bL, B_OR_UP, B_OR_LO, OR_BAND, OR_EDGE, 0.3)
band(bL, B_BL_UP, B_BL_LO, BL_BAND, BL_EDGE, 0.3)
line(bR, B_GRAY, GRAY, 1.1)
points(bT, B_OR_PTS, OR_PT, (1, 1, 1, 0.35))
points(bT, B_BL_PTS, BL_PT, (0.9, 0.93, 1, 0.7))
line(bT, B_OR_MEAN, OR_LINE, 2.3)
line(bT, B_BL_MEAN, BL_LINE, 2.3)

# ------------------------------------------------------------------ panel c
cL, cR, cT = make_panel('L', 300, 560, (333.3, 8, 507.7, 0), (332.3, 1.6, 531.7, 0.0))
ticks(cL, [0, 2, 4, 6, 8], [-1, 1, 3, 5, 7])
ticks(cR, [0, 0.4, 0.8, 1.2, 1.6], [0.2, 0.6, 1.0, 1.4], ['0', '0.4', '0.8', '1.2', '1.6'])
rx, ry, re = unz(C_RED)
cR.vlines(rx, ry - re, ry + re, color='#b4b4b4', lw=0.9)
line(cR, C_RED, '#ff1a1a', 2.6)
line(cT, C_BLACK, '#000000', 2.3)

# ------------------------------------------------------------------ panel d
dL, dR, dT = make_panel('R', 300, 560, (331, 6, 506, -3), (356, 1.6, 510, 0.0))
ticks(dL, [6, 3, 0, -3], [4.5, 1.5, -1.5, -4.5], ['6', '3', '0', '\u22123'])
ticks(dR, [0, 0.4, 0.8, 1.2, 1.6], [0.2, 0.6, 1.0, 1.4, 1.8], ['0', '0.4', '0.8', '1.2', '1.6'])
line(dR, D_LBLUE, '#9a9af7', 2.2)
line(dR, D_PURPLE, '#9300cc', 2.2)
line(dT, D_GRAY, '#7a7a7a', 2.2)

# ------------------------------------------------------------------ panel e
eL, _, eT = make_panel('L', 560, 892, (573, 16, 835, 4))
ticks(eL, [4, 8, 12, 16], [2, 6, 10, 14])
line(eL, E_BLUE, '#0a0aee', 2.2)
line(eL, E_GREEN, '#1e9639', 2.2)

# ------------------------------------------------------------------ panel f
fL, _, fT = make_panel('R', 560, 892, (572, 16, 833, 4))
ticks(fL, [4, 8, 12, 16], [2, 6, 10, 14])
line(fL, F_GREEN, '#8cc63f', 2.2)
line(fL, F_LBLUE, '#5f9cf5', 2.2)
line(fL, F_BLUE, '#0a0aee', 2.2)

# ------------------------------------------------------------------ text
for px, py, s in [(7, 10, 'a'), (369, 10, 'b'), (7, 317, 'c'), (372, 316, 'd'), (7, 601, 'e'), (372, 601, 'f')]:
    ftext(px, py, s, fontsize=11, fontweight='bold', ha='center', va='center')

d18 = '\u2013 \u03b4$^{18}$O (\u2030 versus VPDB)'
ftext(16, 121, 'SST (\u00b0C)', rotation=90, ha='center', va='center')
ftext(322, 125, d18, rotation=90, ha='center', va='center')
ftext(376, 150, 'SST (\u00b0C)', rotation=90, ha='center', va='center')
ftext(695, 160, d18, rotation=90, ha='center', va='center')

ftext(16, 420, '\u0394\u03b4$^{15}$N$_{\\mathregular{P-A}}$ (\u2030 versus air)', rotation=90, ha='center', va='center')
ddO = '\u0394\u03b4$^{18}$O (\u2030 versus VPDB)$_{\\mathregular{benthic-planktic}}$'
ftext(320, 538, ddO, rotation=90, rotation_mode='anchor', ha='left', va='center')
vdash(316, 544, 553, '#ff1a1a', 2.5)

ftext(380, 500, '\u0394\u03b4$^{15}$N$_{\\mathregular{P-A}}$ (\u2030 versus air)', rotation=90, rotation_mode='anchor', ha='left', va='center')
vdash(380, 506, 514, '#7a7a7a', 2.0)
ftext(692, 538, ddO, rotation=90, rotation_mode='anchor', ha='left', va='center')
vdash(690, 544, 552, '#9300cc', 2.5)
vdash(690, 561, 569, '#9a9af7', 2.5)

ftext(14, 703, 'FB-\u03b4$^{15}$ N (\u2030 versus air)', rotation=90, ha='center', va='center')
ftext(379, 703, 'FB-\u03b4$^{15}$ N (\u2030 versus air)', rotation=90, ha='center', va='center')

ftext(170, 30, 'MMCO', ha='center', va='center', fontsize=FS + 0.5)
ftext(547, 30, 'EECO', ha='center', va='center', fontsize=FS + 0.5)
ftext(163, 381, 'Mi-2', ha='center', va='center', fontsize=FS + 0.5)

ftext(90, 636, 'Hiatus S. Ocean', rotation=90, ha='center', va='center', fontweight='bold', fontsize=FS + 0.5)
ftext(185, 642, 'Hiatus S. Ocean', rotation=90, ha='center', va='center', fontweight='bold', fontsize=FS + 0.5)

# legends
dash(67, 77, 318, '#ff1a1a')
ftext(80, 318, 'ODP 1171', va='center')
ftext(80, 333, 'S. Ocean', va='center')

dash(435, 445, 545, '#9300cc')
ftext(448, 545, 'ODP 690', va='center')
ftext(448, 560, 'S. Ocean', va='center')
dash(435, 445, 575, '#9a9af7')
ftext(448, 575, 'ODP 738', va='center')
ftext(448, 590, 'S. Ocean', va='center')

dash(138, 147, 862, '#1e9639')
ftext(148, 862, 'ODP 872 Pacific', va='center')
dash(138, 147, 877, '#0a0aee')
ftext(148, 877, 'DSDP 516 Atlantic', va='center')

dash(435, 445, 687, '#8cc63f')
ftext(448, 687, 'ODP 1209', va='center')
ftext(448, 702, 'Pacific', va='center')
dash(435, 445, 722, '#0a0aee')
ftext(448, 722, 'DSDP 516', va='center')
ftext(448, 737, 'Atlantic', va='center')
dash(435, 445, 757, '#5f9cf5')
ftext(448, 757, 'ODP 1263', va='center')
ftext(448, 772, 'Atlantic', va='center')

fig.savefig('out.png', dpi=100)
